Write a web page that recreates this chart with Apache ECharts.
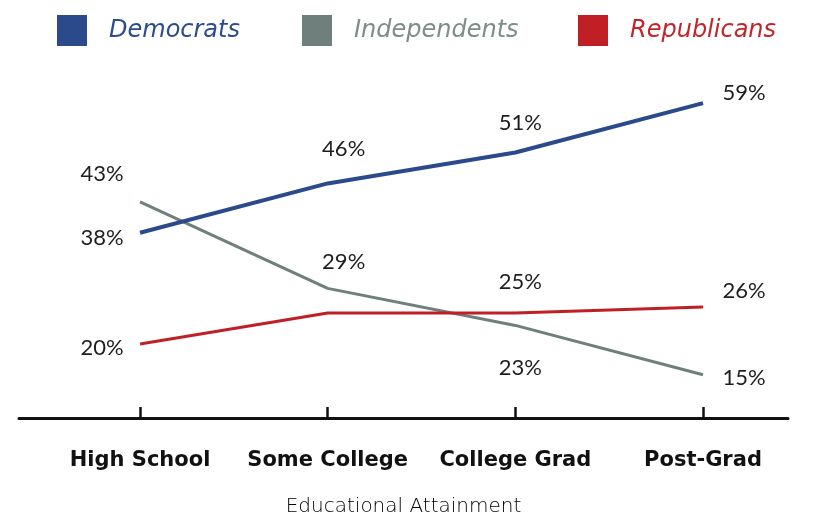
<!DOCTYPE html>
<html>
<head>
<meta charset="utf-8">
<script src="https://cdn.jsdelivr.net/npm/echarts@6/dist/echarts.min.js"></script>
<style>
html,body{margin:0;padding:0;background:#fff;}
#c{width:827px;height:518px;}
</style>
</head>
<body>
<div id="c"></div>
<script>
const categories = ['High School', 'Some College', 'College Grad', 'Post-Grad'];
const democrats = [38, 46, 51, 59];
const independents = [43, 29, 23, 15];
const republicans = [20, 25, 25, 26];
const seriesNames = ['Democrats', 'Independents', 'Republicans'];
const axisTitle = 'Educational Attainment';

const lineColors = ['#2a4a8b', '#6f7f7c', '#c01f25'];
const legendTextColors = ['#2c4c8e', '#7d8d8a', '#c0272d'];
const lineWidths = [4, 3, 3];
// label offsets from each point (null = no label)
const labelOffsets = [
  [[-38, 5], [16, -35], [5, -30], [41, -10]],
  [[-38, -28], [16, -26], [5, 43], [41, 3]],
  [[-38, 4], null, [5, -31], [41, -16]]
];
const valueFont = {fontFamily: 'Lato', fontWeight: 400, fontSize: 22, color: '#1e1e1e'};

const allValues = [democrats, independents, republicans];

const series = allValues.map((vals, s) => ({
  name: seriesNames[s],
  type: 'line',
  xAxisIndex: 0,
  yAxisIndex: 0,
  symbol: 'circle',
  symbolSize: 0.1,
  showSymbol: true,
  lineStyle: {color: lineColors[s], width: lineWidths[s]},
  itemStyle: {color: lineColors[s]},
  emphasis: {disabled: true},
  z: s === 0 ? 5 : 3,
  data: vals.map((v, i) => {
    const off = labelOffsets[s][i];
    return {
      value: [i, v],
      label: off ? {
        show: true,
        position: 'inside',
        align: 'center',
        verticalAlign: 'middle',
        offset: off,
        formatter: v + '%',
        ...valueFont
      } : {show: false}
    };
  })
}));

const legendLefts = [57, 302, 578];
const legends = seriesNames.map((n, s) => ({
  left: legendLefts[s],
  top: 15,
  padding: 0,
  itemWidth: 30,
  itemHeight: 31,
  icon: 'rect',
  selectedMode: false,
  data: [{
    name: n,
    itemStyle: {color: lineColors[s]},
    textStyle: {
      color: legendTextColors[s],
      fontFamily: 'DejaVu Sans',
      fontStyle: 'italic',
      fontWeight: 200,
      fontSize: 24,
      padding: [0, 0, 0, 17]
    }
  }]
}));

const chart = echarts.init(document.getElementById('c'), null, {renderer: 'canvas'});
chart.setOption({
  animation: false,
  backgroundColor: '#fff',
  legend: legends,
  grid: {left: 19, right: 39, top: 97, bottom: 100, containLabel: false, outerBoundsMode: 'none'},
  xAxis: {
    type: 'value',
    min: -0.645,
    max: 3.453,
    name: axisTitle,
    nameLocation: 'middle',
    nameGap: 79,
    nameTextStyle: {fontFamily: 'DejaVu Sans', fontWeight: 200, fontSize: 20, color: '#000'},
    splitLine: {show: false},
    axisLine: {show: true, lineStyle: {color: '#111', width: 3}},
    axisTick: {show: true, inside: true, length: 11, customValues: [0, 1, 2, 3], lineStyle: {color: '#111', width: 2.5}},
    axisLabel: {
      show: true,
      customValues: [0, 1, 2, 3],
      margin: 32,
      fontFamily: 'DejaVu Sans',
      fontWeight: 'bold',
      fontSize: 21,
      color: '#111',
      formatter: (v) => categories[Math.round(v)]
    }
  },
  yAxis: {
    type: 'value',
    min: 8,
    max: 60,
    show: false,
    splitLine: {show: false}
  },
  series: series
});
</script>
</body>
</html>
